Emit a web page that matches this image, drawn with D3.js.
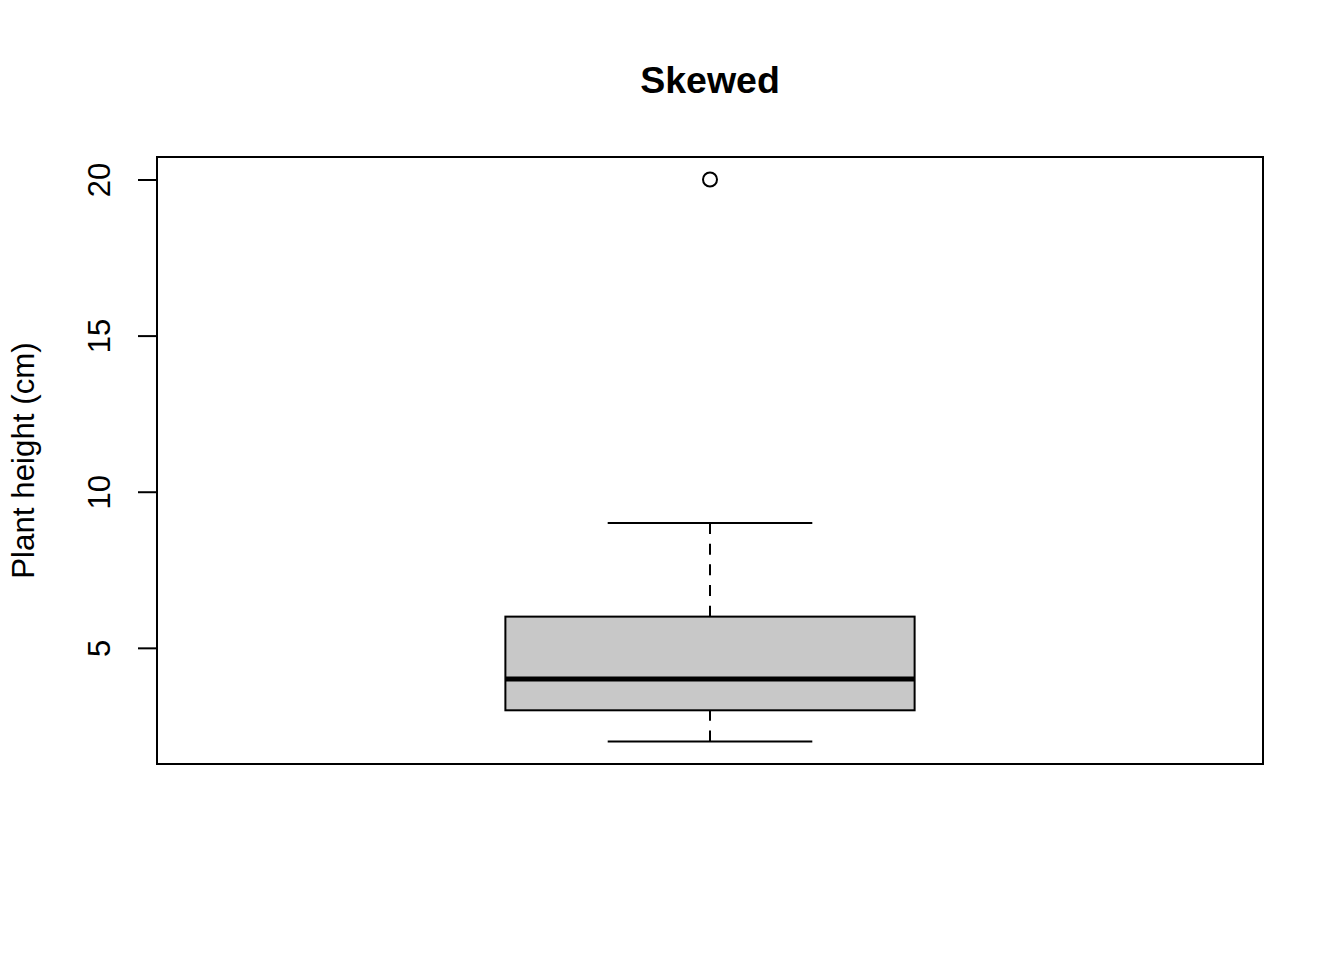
<!DOCTYPE html>
<html>
<head>
<meta charset="utf-8">
<script src="https://cdn.jsdelivr.net/npm/d3@7"></script>
<style>
  html, body { margin: 0; padding: 0; background: #fff; }
  svg { display: block; }
  text { font-family: "Liberation Sans", Arial, Helvetica, sans-serif; fill: #000; }
</style>
</head>
<body>
<script>
// ---- data ----
const title = "Skewed";
const yLabel = "Plant height (cm)";
const boxStats = [2, 3, 4, 6, 9];   // lower whisker, Q1, median, Q3, upper whisker
const outliers = [20];
const yTicks = [5, 10, 15, 20];

// ---- layout ----
const W = 1344, H = 960;
const plot = { left: 157, right: 1263, top: 157, bottom: 764 };

const svg = d3.select("body").append("svg").attr("width", W).attr("height", H);

// y scale: R default range extended by 4%
const allVals = boxStats.concat(outliers);
const lo = d3.min(allVals), hi = d3.max(allVals);
const pad = (hi - lo) * 0.04;
const y = d3.scaleLinear().domain([lo - pad, hi + pad]).range([plot.bottom, plot.top]);

// x scale for the single group
const x = d3.scaleLinear().domain([0.5, 1.5]).range([plot.left, plot.right]);
const cx = x(1);
const boxHalf = x(1.185) - x(1);     // half box width
const capHalf = boxHalf / 2;          // half whisker staple width

// title
svg.append("text")
  .attr("x", cx).attr("y", 93)
  .attr("text-anchor", "middle")
  .style("font-size", "37.5px").style("font-weight", "bold")
  .text(title);

// y axis
const axis = d3.axisLeft(y).tickValues(yTicks).tickSize(19).tickPadding(0).tickFormat(d3.format("d"));
const gAxis = svg.append("g").attr("transform", `translate(${plot.left},0)`).call(axis);
gAxis.select(".domain").remove();
gAxis.selectAll(".tick line").attr("stroke", "#000").attr("stroke-width", 2);
gAxis.selectAll(".tick text")
  .attr("x", null).attr("dy", null)
  .attr("transform", "translate(-47,0) rotate(-90)")
  .attr("text-anchor", "middle")
  .style("font-size", "31px")
  .style("font-family", '"Liberation Sans", Arial, sans-serif');

// y label
svg.append("text")
  .attr("transform", `translate(34,${(plot.top + plot.bottom) / 2}) rotate(-90)`)
  .attr("text-anchor", "middle")
  .style("font-size", "31.3px")
  .text(yLabel);

// whiskers (dashed)
const g = svg.append("g");
[[boxStats[4], boxStats[3]], [boxStats[0], boxStats[1]]].forEach(([a, b]) => {
  g.append("line")
    .attr("x1", cx).attr("x2", cx)
    .attr("y1", y(a)).attr("y2", y(b))
    .attr("stroke", "#000").attr("stroke-width", 2)
    .attr("stroke-dasharray", "11,9.7");
});
// staples
[boxStats[0], boxStats[4]].forEach(v => {
  g.append("line")
    .attr("x1", cx - capHalf).attr("x2", cx + capHalf)
    .attr("y1", y(v)).attr("y2", y(v))
    .attr("stroke", "#000").attr("stroke-width", 2);
});
// box
g.append("rect")
  .attr("x", cx - boxHalf).attr("width", 2 * boxHalf)
  .attr("y", y(boxStats[3])).attr("height", y(boxStats[1]) - y(boxStats[3]))
  .attr("fill", "#c8c8c8").attr("stroke", "#000").attr("stroke-width", 2);
// median
g.append("line")
  .attr("x1", cx - boxHalf).attr("x2", cx + boxHalf)
  .attr("y1", y(boxStats[2])).attr("y2", y(boxStats[2]))
  .attr("stroke", "#000").attr("stroke-width", 5);
// outliers
g.selectAll("circle.out").data(outliers).enter().append("circle")
  .attr("class", "out")
  .attr("cx", cx).attr("cy", d => y(d)).attr("r", 7)
  .attr("fill", "none").attr("stroke", "#000").attr("stroke-width", 2);

// plot frame
svg.append("rect")
  .attr("x", plot.left).attr("y", plot.top)
  .attr("width", plot.right - plot.left).attr("height", plot.bottom - plot.top)
  .attr("fill", "none").attr("stroke", "#000").attr("stroke-width", 2);
</script>
</body>
</html>
